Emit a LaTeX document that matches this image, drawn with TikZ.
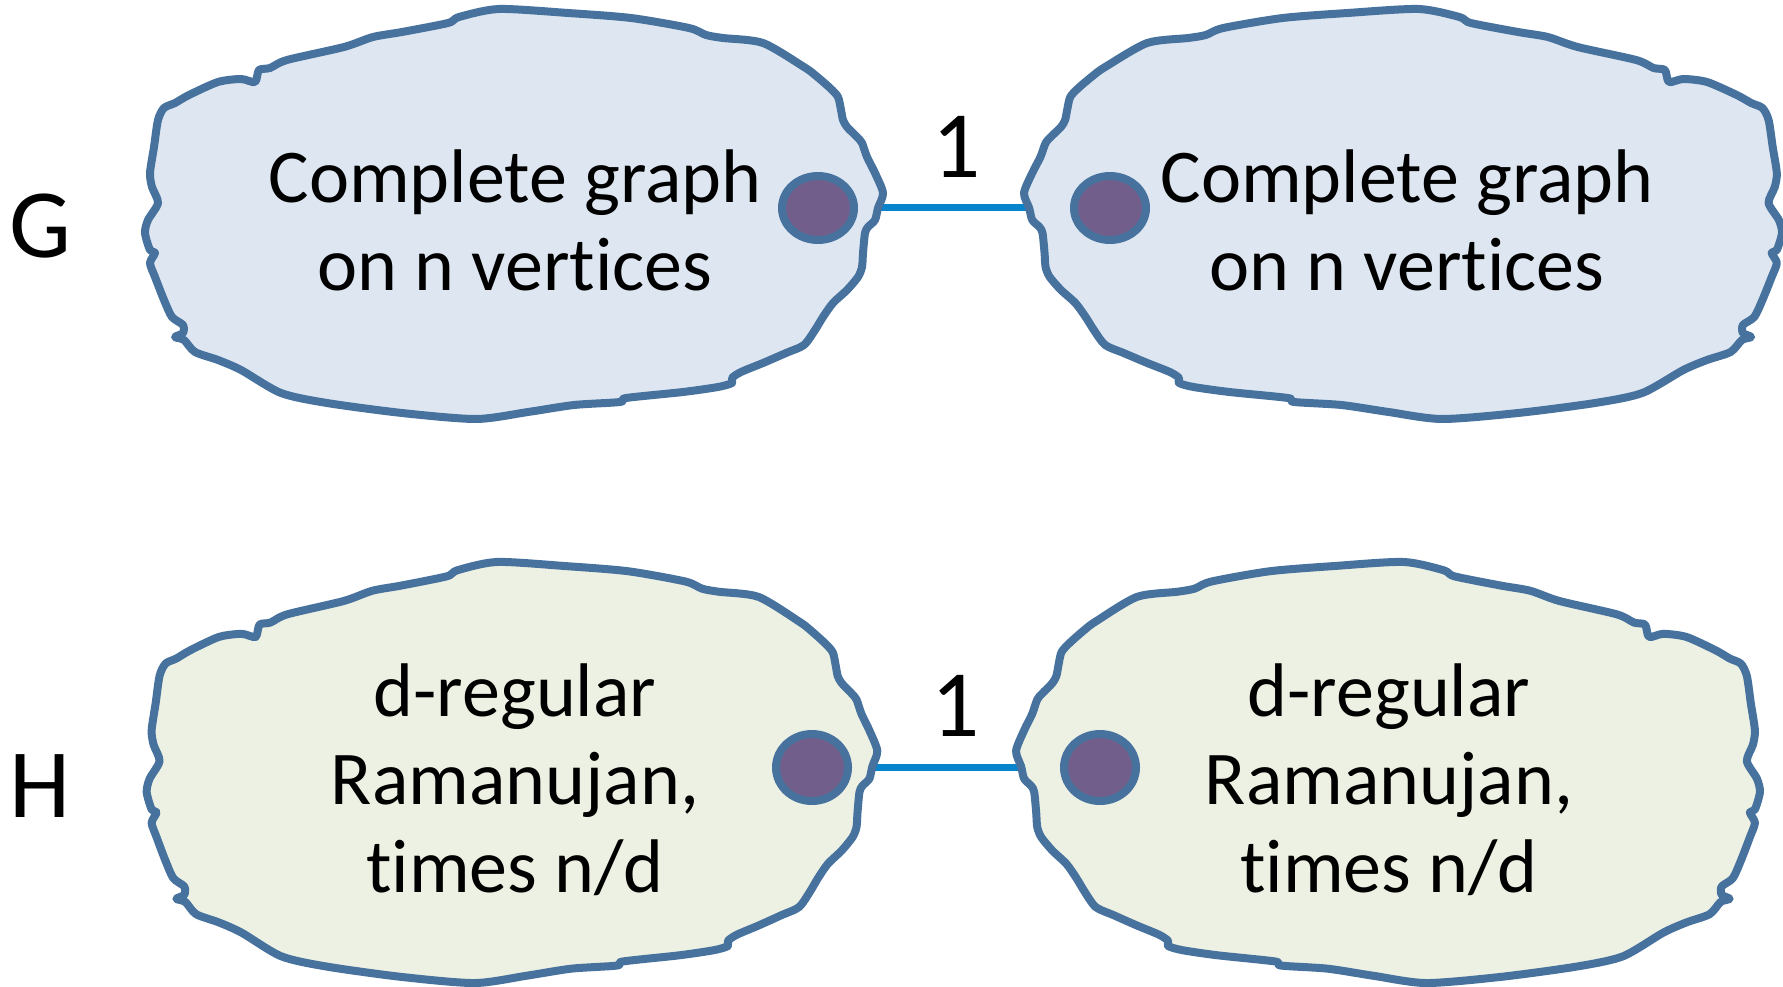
\documentclass[tikz,border=0pt]{standalone}
\usepackage{fontspec}
\setmainfont{Carlito}[Ligatures=NoCommon]
\usetikzlibrary{shapes.geometric,backgrounds}
\definecolor{blobline}{RGB}{72,114,158}
\definecolor{gfill}{RGB}{222,231,241}
\definecolor{hfill}{RGB}{236,241,227}
\definecolor{vertexfill}{RGB}{114,94,138}
\definecolor{linkblue}{RGB}{8,132,204}
\tikzstyle{blob} = [draw=blobline, line width=8pt, line join=round]
\tikzstyle{vertex} = [draw=blobline, fill=vertexfill, ellipse, line width=8pt, inner sep=0pt, minimum width=72pt, minimum height=64pt]
\tikzstyle{link} = [draw=linkblue, line width=7pt]
\tikzstyle{blobtext} = [font=\fontsize{76}{88}\selectfont, align=center, anchor=base, inner sep=0pt]
\tikzstyle{sidetext} = [font=\fontsize{98}{100}\selectfont, anchor=base, inner sep=0pt]
\tikzstyle{weight} = [font=\fontsize{95}{100}\selectfont, anchor=base, inner sep=0pt]
% outline of one cloud, centred at the origin, pointy side to the right
\newcommand{\blobpath}{plot[smooth cycle, tension=0.45] coordinates {
  (-14,-205) (55,-201) (118,-196) (176,-186) (193,-179) (210,-176) (250,-171)
  (291,-147) (302,-139) (317,-126) (325,-117) (328,-104) (330,-94) (334,-87)
  (344,-77) (349,-71) (354,-57) (362,-41) (370,-21) (365,-6) (362,6) (355,13)
  (352,19) (350,39) (349,53) (345,63) (334,76) (320,89) (310,103) (302,116)
  (291,131) (273,139) (250,149) (228,158) (219,164) (219,169) (205,173)
  (170,178) (113,184) (107,188) (61,191) (15,198) (-37,205) (-111,199)
  (-186,189) (-232,179) (-272,156) (-295,146) (-318,138) (-329,126) (-338,123)
  (-330,119) (-330,111) (-341,103) (-349,86) (-358,63) (-363,49) (-358,39)
  (-363,36) (-368,19) (-365,6) (-355,-11) (-361,-27) (-363,-41) (-359,-67)
  (-355,-94) (-349,-106) (-338,-111) (-324,-119) (-295,-132) (-272,-135)
  (-258,-132) (-254,-144) (-243,-146) (-226,-154) (-169,-167) (-140,-177)
  (-111,-182) (-65,-191) (-54,-197)}}

\begin{document}
\begin{tikzpicture}[x=1pt, y=-1pt]
    \useasboundingbox (0,0) rectangle (1783,987);
    % clouds
    \begin{scope}[shift={(513,214)}]
        \path[blob, fill=gfill] \blobpath;
    \end{scope}
    \begin{scope}[shift={(1404,214)}, xscale=-1.027]
        \path[blob, fill=gfill] \blobpath;
    \end{scope}
    \begin{scope}[shift={(511,772.5)}, xscale=0.99, yscale=1.027]
        \path[blob, fill=hfill] \blobpath;
    \end{scope}
    \begin{scope}[shift={(1389,772.5)}, xscale=-1.008, yscale=1.027]
        \path[blob, fill=hfill] \blobpath;
    \end{scope}
    % vertices
    \node[vertex] (ga) at (818,208) {};
    \node[vertex] (gb) at (1110,208) {};
    \node[vertex, minimum height=67pt] (ha) at (812,767.5) {};
    \node[vertex, minimum height=67pt] (hb) at (1100,767.5) {};
    % texts (anchored on the baseline of the last line)
    \node[blobtext] (gatext) at (515,290) {Complete graph\\on n vertices};
    \node[blobtext] (gbtext) at (1407,290) {Complete graph\\on n vertices};
    \node[blobtext] (hatext) at (515,892) {d-regular\\Ramanujan,\\times n/d};
    \node[blobtext] (hbtext) at (1389,892) {d-regular\\Ramanujan,\\times n/d};
    \node[sidetext] (glabel) at (40,258) {G};
    \node[sidetext] (hlabel) at (40,817) {H};
    \node[weight] (gweight) at (957,178) {1};
    \node[weight] (hweight) at (956,736) {1};
    % edges, behind the clouds
    \begin{scope}[on background layer]
        \path[link] (ga) -- (gb);
        \path[link] (ha) -- (hb);
    \end{scope}
\end{tikzpicture}
\end{document}
